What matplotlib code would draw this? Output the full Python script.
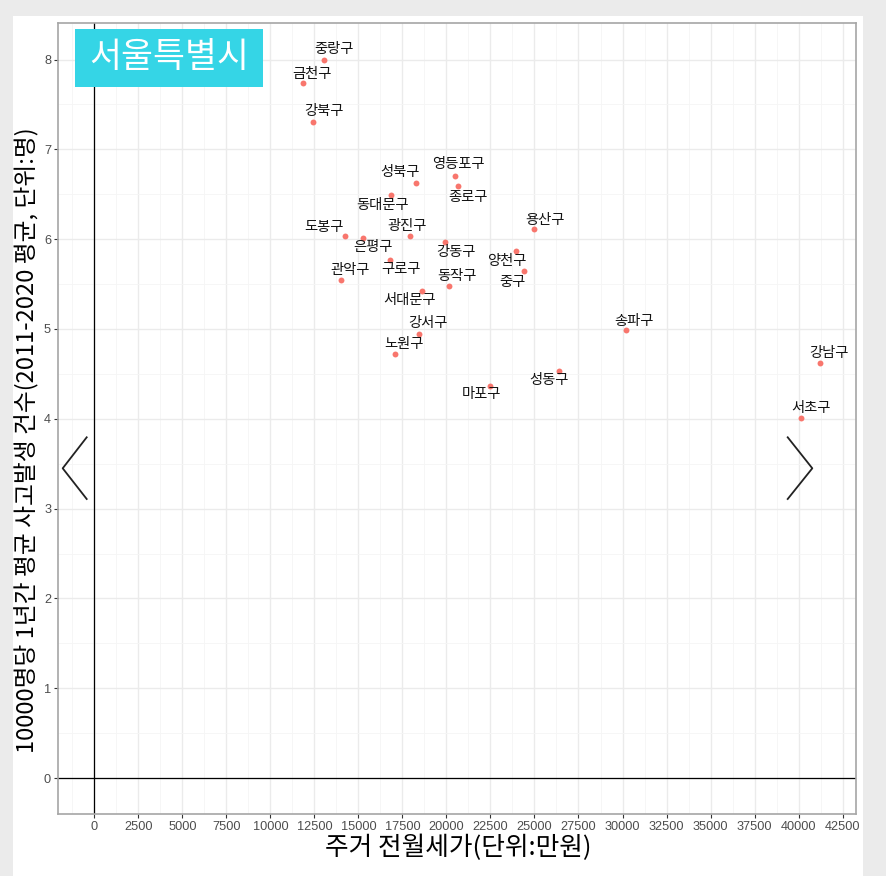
import matplotlib.pyplot as plt
from matplotlib.patches import Rectangle
from matplotlib.lines import Line2D
from matplotlib.ticker import MultipleLocator

plt.rcParams['font.family'] = ['Noto Sans CJK KR', 'DejaVu Sans']

# 구별 주거 전월세가(만원), 1만명당 연평균 사고발생 건수
districts = ['중랑구', '금천구', '강북구', '성북구', '영등포구', '종로구', '동대문구',
             '도봉구', '은평구', '광진구', '강동구', '용산구', '양천구', '중구',
             '구로구', '관악구', '동작구', '서대문구', '강서구', '노원구', '송파구',
             '성동구', '마포구', '강남구', '서초구']
rent = [13020, 11860, 12420, 18270, 20500, 20630, 16880,
        14260, 15250, 17920, 19940, 25000, 23970, 24430,
        16780, 14030, 20170, 18640, 18460, 17060, 30200,
        26370, 22500, 41200, 40120]
accidents = [8.00, 7.74, 7.30, 6.63, 6.70, 6.59, 6.49,
             6.03, 6.01, 6.04, 5.97, 6.11, 5.87, 5.64,
             5.77, 5.55, 5.48, 5.42, 4.94, 4.72, 4.99,
             4.53, 4.37, 4.62, 4.01]

# 라벨 위치 (점 기준 픽셀 오프셋)
label_offsets = [(10, 11), (9, 9), (11, 11), (-16, 11), (3, 12), (10, -11), (-9, -10),
                 (-21, 9), (10, -9), (-3, 10), (11, -10), (10, 9), (-10, -10), (-12, -11),
                 (11, -9), (9, 10), (8, 10), (-13, -9), (9, 11), (9, 10), (8, 9),
                 (-10, -9), (-9, -8), (9, 10), (10, 10)]

fig = plt.figure(figsize=(8.86, 8.76), dpi=100, facecolor='#ebebeb')
W, H = 886, 876


def fx(px):
    return px / W


def fy(py):
    return 1 - py / H


# 흰 배경 카드
fig.patches.append(Rectangle((fx(13), 0), fx(863) - fx(13), fy(16),
                             transform=fig.transFigure, facecolor='white',
                             edgecolor='none', zorder=-5))

ax = fig.add_axes([fx(58), fy(814), fx(856) - fx(58), fy(22.7) - fy(814)])
ax.set_zorder(1)
ax.set_facecolor('white')

ax.scatter(rent, accidents, s=18, color='#f8766d', zorder=3, linewidths=0)
for name, x, y, off in zip(districts, rent, accidents, label_offsets):
    ax.annotate(name, (x, y), xytext=off, textcoords='offset pixels',
                ha='center', va='center', fontsize=10.3, color='#111111', zorder=4)

ax.axvline(0, color='black', lw=0.9, zorder=2)
ax.axhline(0, color='black', lw=0.9, zorder=2)

ax.set_xlim(-2060, 43260)
ax.set_ylim(-0.40, 8.41)
ax.xaxis.set_major_locator(MultipleLocator(2500))
ax.xaxis.set_minor_locator(MultipleLocator(1250))
ax.yaxis.set_major_locator(MultipleLocator(1))
ax.yaxis.set_minor_locator(MultipleLocator(0.5))
ax.grid(which='major', color='#ebebeb', lw=1.0, zorder=0)
ax.grid(which='minor', color='#f5f5f5', lw=0.6, zorder=0)
ax.set_axisbelow(True)

ax.tick_params(which='major', length=3, width=0.8, color='#333333', labelcolor='#4d4d4d',
               labelsize=9.2, pad=2)
ax.tick_params(which='minor', length=0)
for lab in ax.get_xticklabels() + ax.get_yticklabels():
    lab.set_family(['Liberation Sans', 'DejaVu Sans'])
for sp in ax.spines.values():
    sp.set_color('#a6a6a6')
    sp.set_linewidth(1.2)

fig.text(fx(458), fy(848), '주거 전월세가(단위:만원)', ha='center', va='center',
         fontsize=18.5, color='black')
fig.text(fx(27), fy(440), '10000명당 1년간 평균 사고발생 건수(2011-2020 평균, 단위:명)',
         ha='center', va='center', rotation=90, fontsize=17.1, color='black')

# 제목 상자
fig.patches.append(Rectangle((fx(75), fy(86.7)), fx(263) - fx(75), fy(29) - fy(86.7),
                             transform=fig.transFigure, facecolor='#35d5e6',
                             edgecolor='none', zorder=5))
fig.text(fx(169), fy(57), '서울특별시', ha='center', va='center', fontsize=25,
         color='white', fontweight='medium', zorder=6)

# 좌우 넘김 화살표
for xs in ([86.7, 62.7, 86.7], [787.7, 812.3, 787.7]):
    fig.lines.append(Line2D([fx(v) for v in xs], [fy(437.3), fy(468.3), fy(499)],
                            transform=fig.transFigure, color='#222222', lw=1.3, zorder=6))

fig.savefig('out.png', dpi=100, facecolor=fig.get_facecolor())
